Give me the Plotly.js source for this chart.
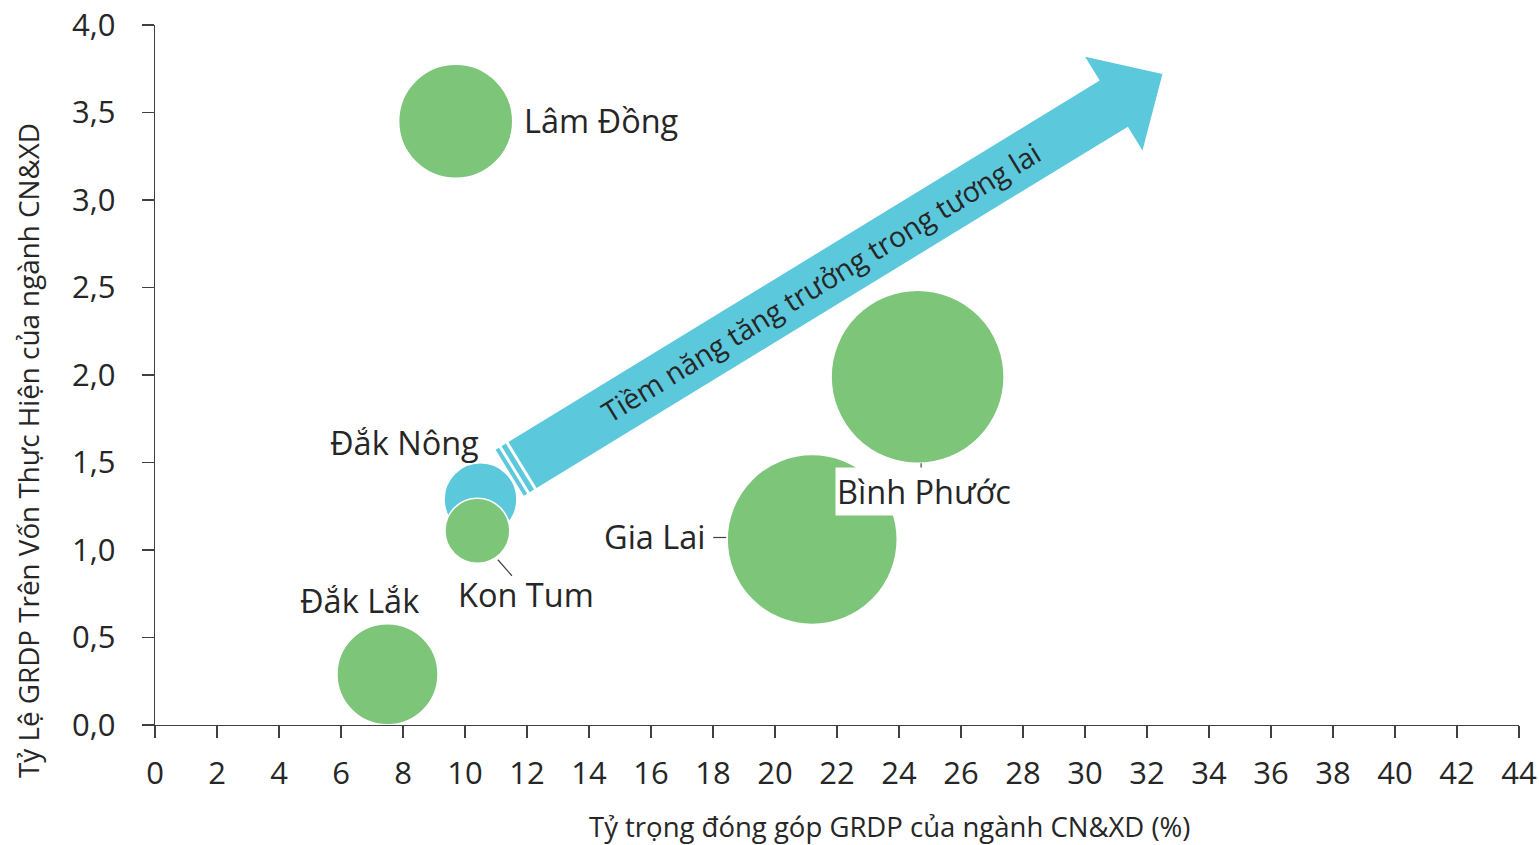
<!DOCTYPE html>
<html>
<head>
<meta charset="utf-8">
<script src="https://cdn.plot.ly/plotly-3.0.1.min.js"></script>
<style>
  html, body { margin: 0; padding: 0; background: #fff; }
  #chart { width: 1539px; height: 845px; }
</style>
</head>
<body>
<div id="chart"></div>
<script>
// ---- Data ----
const provinces   = ['Lâm Đồng', 'Đắk Nông', 'Kon Tum', 'Đắk Lắk', 'Gia Lai', 'Bình Phước'];
const grdpShare   = [9.7, 10.5, 10.4, 7.5, 21.2, 24.6];      // x: Tỷ trọng đóng góp GRDP (%)
const grdpRatio   = [3.45, 1.29, 1.11, 0.29, 1.06, 1.99];    // y: Tỷ lệ GRDP / vốn thực hiện
const bubbleSize  = [13.0, 5.3, 4.2, 10.2, 28.9, 29.9];      // bubble size (area units)
const bubbleColor = ['#7DC579', '#5BC8DC', '#7DC579', '#7DC579', '#7DC579', '#7DC579'];
const xTickVals   = [0,2,4,6,8,10,12,14,16,18,20,22,24,26,28,30,32,34,36,38,40,42,44];
const yTickVals   = [0, 0.5, 1, 1.5, 2, 2.5, 3, 3.5, 4];
const yTickText   = ['0,0','0,5','1,0','1,5','2,0','2,5','3,0','3,5','4,0'];
const arrowText   = 'Tiềm năng tăng trưởng trong tương lai';

// ---- Layout constants ----
const W = 1539, H = 845;
const M = {l: 155, r: 20, t: 25, b: 120};
const X_RANGE = [0, 44], Y_RANGE = [0, 4];
const FONT = '"Open Sans", "Noto Sans", sans-serif';
const TXT = '#262626';
const maxDiameter = 173;
const sizeref = 2 * Math.max(...bubbleSize) / (maxDiameter * maxDiameter);

const plotW = W - M.l - M.r, plotH = H - M.t - M.b;
function px2x(px) { return X_RANGE[0] + (px - M.l) / plotW * (X_RANGE[1] - X_RANGE[0]); }
function py2y(py) { return Y_RANGE[0] + (M.t + plotH - py) / plotH * (Y_RANGE[1] - Y_RANGE[0]); }

// ---- Decorative arrow, defined in screen pixels ----
const tail = [522.5, 465];           // middle of the body start
const ang = Math.atan2(-361.5, 591.5);
const u = [Math.cos(ang), Math.sin(ang)];      // along arrow
const n = [-u[1], u[0]];                       // perpendicular
const halfBody = 27, bodyLen = 693, halfHead = 55, headLen = 57;
function P(along, side) {
  const px = tail[0] + u[0] * along + n[0] * side;
  const py = tail[1] + u[1] * along + n[1] * side;
  return px2x(px).toFixed(4) + ',' + py2y(py).toFixed(4);
}
function poly(pts) { return 'M' + pts.map(p => P(p[0], p[1])).join(' L') + ' Z'; }
const arrowPath = poly([
  [0, -halfBody], [bodyLen, -halfBody], [bodyLen, -halfHead],
  [bodyLen + headLen, 0],
  [bodyLen, halfHead], [bodyLen, halfBody], [0, halfBody]
]);
const stripe1 = poly([[-3, -halfBody], [-8, -halfBody], [-8, halfBody], [-3, halfBody]]);
const stripe2 = poly([[-11, -halfBody], [-15, -halfBody], [-15, halfBody], [-11, halfBody]]);
const ARROW_COLOR = '#5BC8DC';

const shapes = [arrowPath, stripe1, stripe2].map(p => ({
  type: 'path', path: p, xref: 'x', yref: 'y',
  fillcolor: ARROW_COLOR, line: {width: 0}, layer: 'above'
}));

// leader lines, anchored on bubble centres (pixel offsets)
function leader(i, x0, y0, x1, y1) {
  return {
    type: 'line', xref: 'x', yref: 'y',
    xsizemode: 'pixel', ysizemode: 'pixel',
    xanchor: grdpShare[i], yanchor: grdpRatio[i],
    x0: x0, x1: x1, y0: y0, y1: y1,
    line: {color: '#404040', width: 1.2}, layer: 'above'
  };
}
shapes.push(leader(2, 20.5, -29, 34.5, -45));     // Kon Tum
shapes.push(leader(4, -99, 2, -86, 2));           // Gia Lai
shapes.push(leader(5, 3.5, -86.5, 3.5, -93.5));   // Bình Phước

// ---- Labels (anchored at bubble centres with pixel shifts) ----
const labelOffsets = [
  {xanchor: 'left',   xshift: 67,    yshift: 1},     // Lâm Đồng
  {xanchor: 'center', xshift: -76.5, yshift: 56.5},  // Đắk Nông
  {xanchor: 'center', xshift: 49,    yshift: -64},   // Kon Tum
  {xanchor: 'center', xshift: -28.5, yshift: 73.5},  // Đắk Lắk
  {xanchor: 'right',  xshift: -105,  yshift: 3},     // Gia Lai
  {xanchor: 'center', xshift: 6.5,   yshift: -114.5} // Bình Phước
];
const annotations = provinces.map((p, i) => Object.assign({
  x: grdpShare[i], y: grdpRatio[i], xref: 'x', yref: 'y',
  text: p, showarrow: false, yanchor: 'middle',
  font: {family: FONT, size: 32.5, color: TXT},
  bgcolor: i === 5 ? '#FFFFFF' : 'rgba(0,0,0,0)',
  borderpad: i === 5 ? 1 : 0
}, labelOffsets[i]));

// arrow caption
annotations.push({
  x: px2x(821), y: py2y(282), xref: 'x', yref: 'y',
  text: arrowText, showarrow: false, textangle: -31.4,
  xanchor: 'center', yanchor: 'middle',
  font: {family: FONT, size: 28.5, color: TXT}
});

// axis titles
annotations.push({
  xref: 'paper', yref: 'paper', x: (889 - M.l) / plotW, y: (M.t + plotH - 826) / plotH,
  text: 'Tỷ trọng đóng góp GRDP của ngành CN&XD (%)', showarrow: false,
  xanchor: 'center', yanchor: 'middle',
  font: {family: FONT, size: 27.5, color: TXT}
});
annotations.push({
  xref: 'paper', yref: 'paper', x: (28 - M.l) / plotW, y: (M.t + plotH - 451) / plotH,
  text: 'Tỷ Lệ GRDP Trên Vốn Thực Hiện của ngành CN&XD', showarrow: false,
  textangle: -90, xanchor: 'center', yanchor: 'middle',
  font: {family: FONT, size: 27.8, color: TXT}
});

const trace = {
  type: 'scatter', mode: 'markers',
  x: grdpShare, y: grdpRatio, text: provinces,
  marker: {
    size: bubbleSize, sizemode: 'area', sizeref: sizeref,
    color: bubbleColor, opacity: 1,
    line: {color: '#FFFFFF', width: 1.5}
  },
  cliponaxis: false, hoverinfo: 'skip'
};

const axisCommon = {
  showgrid: false, zeroline: false, showline: true,
  linecolor: '#404040', linewidth: 1.3,
  ticks: 'outside', ticklen: 12, tickwidth: 1.3, tickcolor: '#404040',
  tickfont: {family: FONT, size: 31, color: TXT},
  fixedrange: true
};

const layout = {
  width: W, height: H, margin: M,
  paper_bgcolor: '#FFFFFF', plot_bgcolor: '#FFFFFF',
  showlegend: false, separators: ',.',
  xaxis: Object.assign({}, axisCommon, {
    range: X_RANGE, tickmode: 'array', tickvals: xTickVals,
    ticktext: xTickVals.map(String), ticklabelstandoff: 8
  }),
  yaxis: Object.assign({}, axisCommon, {
    range: Y_RANGE, tickmode: 'array', tickvals: yTickVals,
    ticktext: yTickText, ticklabelstandoff: 20
  }),
  shapes: shapes,
  annotations: annotations
};

Plotly.newPlot('chart', [trace], layout, {staticPlot: true, displayModeBar: false});
</script>
</body>
</html>
